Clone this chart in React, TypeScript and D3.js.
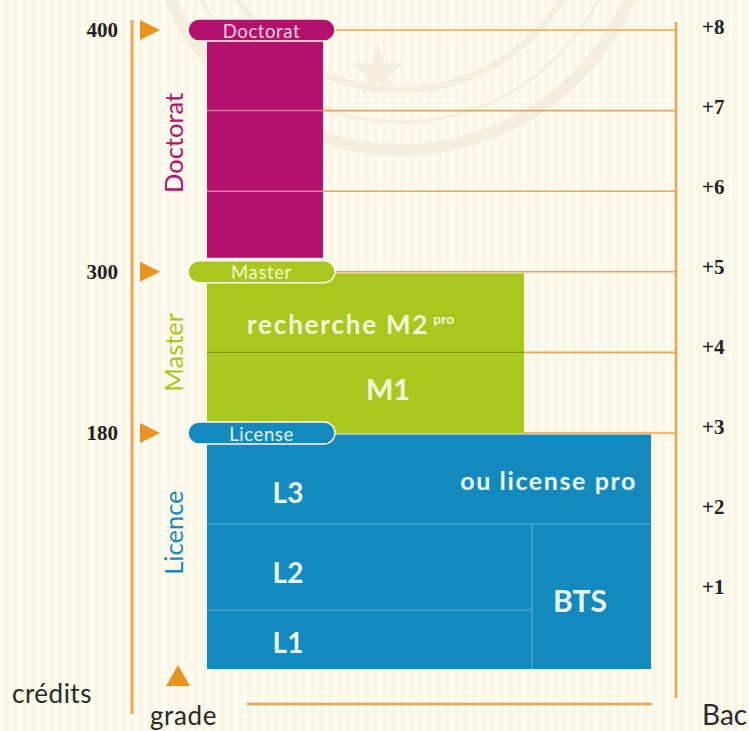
import React, { useEffect, useRef } from 'react';
import * as d3 from 'd3';

// années après le bac
const years = [1, 2, 3, 4, 5, 6, 7, 8];
const yearLabels = ['+1', '+2', '+3', '+4', '+5', '+6', '+7', '+8'];

// crédits ECTS et grades
const credits = [180, 300, 400];
const creditYears = [3, 5, 8];
const gradePills = ['License', 'Master', 'Doctorat'];

// cycles
const cycleNames = ['Licence', 'Master', 'Doctorat'];
const cycleStart = [0, 3, 5];
const cycleEnd = [3, 5, 8];
const cycleColors = ['#1389bd', '#a9c71f', '#b2126b'];
const pillText = ['#e6f6ff', '#f4f8cf', '#f7cde2'];

// cellules (années de formation)
const cellLabels = ['L1', 'L2', 'L3', 'BTS', 'M1', 'recherche M2'];
const cellFrom = [0, 1, 2, 0, 3, 4];
const cellTo = [1, 2, 3, 2, 4, 5];

const App: React.FC = () => {
  const svgRef = useRef<SVGSVGElement>(null);
  const width = 749;
  const height = 731;

  useEffect(() => {
    if (!svgRef.current) return;
    const svg = d3.select(svgRef.current);
    svg.selectAll('*').remove();

    const sans = 'Lato, "Open Sans", sans-serif';
    const serif = '"Liberation Serif", "DejaVu Serif", serif';
    const orange = '#eba552';

    const leftAxisX = 132;
    const rightAxisX = 676;
    const blockLeft = 207;
    const cycleRight = [651, 524, 323];
    const btsLeft = 532;
    const pillX0 = 188, pillX1 = 335, pillH = 22;

    // échelle des années (blocs)
    const y = d3.scaleLinear()
      .domain([0, 1, 2, 3, 8])
      .range([669, 610, 524, 433, 30]);
    // échelle des étiquettes de droite
    const yLab = d3.scaleLinear().domain([1, 8]).range([587, 27]);

    // fond rayé
    const defs = svg.append('defs');
    const pat = defs.append('pattern')
      .attr('id', 'stripes').attr('width', 9).attr('height', 10)
      .attr('patternUnits', 'userSpaceOnUse');
    pat.append('rect').attr('width', 9).attr('height', 10).attr('fill', '#fcf6e6');
    pat.append('rect').attr('width', 4).attr('height', 10).attr('fill', '#fefbf1');
    svg.append('rect').attr('width', width).attr('height', height).attr('fill', 'url(#stripes)');

    // filigrane (sceau), très pâle
    const seal = svg.append('g').attr('fill', 'none').attr('stroke', '#f4ecdc').attr('opacity', 0.8);
    seal.append('circle').attr('cx', 400).attr('cy', -100).attr('r', 250).attr('stroke-width', 12);
    seal.append('circle').attr('cx', 400).attr('cy', -100).attr('r', 222).attr('stroke-width', 3);
    seal.append('circle').attr('cx', 400).attr('cy', -100).attr('r', 190).attr('stroke-width', 7);
    seal.append('path')
      .attr('d', d3.symbol(d3.symbolStar, 900)() as string)
      .attr('transform', 'translate(378,72)')
      .attr('fill', '#f4ecdc').attr('stroke', 'none');

    // lignes horizontales orange
    svg.append('g').selectAll('line')
      .data(years.filter(d => d >= 3))
      .join('line')
      .attr('x1', blockLeft).attr('x2', rightAxisX)
      .attr('y1', d => y(d)).attr('y2', d => y(d))
      .attr('stroke', orange).attr('stroke-width', 1.6);

    // ligne du bas
    svg.append('line')
      .attr('x1', 247).attr('x2', 652).attr('y1', 704).attr('y2', 704)
      .attr('stroke', orange).attr('stroke-width', 2.5);

    // axes verticaux
    svg.append('line')
      .attr('x1', leftAxisX).attr('x2', leftAxisX).attr('y1', 20).attr('y2', 714)
      .attr('stroke', orange).attr('stroke-width', 3);
    svg.append('line')
      .attr('x1', rightAxisX).attr('x2', rightAxisX).attr('y1', 22).attr('y2', 698)
      .attr('stroke', orange).attr('stroke-width', 2.5);

    // blocs des cycles
    cycleNames.forEach((name, i) => {
      let top = y(cycleEnd[i]) + 1.5;
      let bottom = y(cycleStart[i]);
      if (name === 'Doctorat') {
        top = y(cycleEnd[i]) + pillH / 2;
        bottom = y(cycleStart[i]) - pillH / 2 - 3;
      }
      svg.append('rect')
        .attr('x', blockLeft).attr('y', top)
        .attr('width', cycleRight[i] - blockLeft).attr('height', bottom - top)
        .attr('fill', cycleColors[i]);
    });

    // séparations internes
    const sep = svg.append('g');
    [6, 7].forEach(d => {
      sep.append('line').attr('x1', blockLeft).attr('x2', cycleRight[2])
        .attr('y1', y(d)).attr('y2', y(d)).attr('stroke', '#e07aac').attr('stroke-width', 1.5);
    });
    sep.append('line').attr('x1', blockLeft).attr('x2', cycleRight[1])
      .attr('y1', y(4)).attr('y2', y(4)).attr('stroke', '#7c9a14').attr('stroke-width', 1.2);
    sep.append('line').attr('x1', blockLeft).attr('x2', cycleRight[0])
      .attr('y1', y(2)).attr('y2', y(2)).attr('stroke', '#4fb1dc').attr('stroke-width', 1.2);
    sep.append('line').attr('x1', blockLeft).attr('x2', btsLeft)
      .attr('y1', y(1)).attr('y2', y(1)).attr('stroke', '#4fb1dc').attr('stroke-width', 1.2);
    sep.append('line').attr('x1', btsLeft).attr('x2', btsLeft)
      .attr('y1', y(2)).attr('y2', y(0)).attr('stroke', '#4fb1dc').attr('stroke-width', 1.2);

    // textes des cellules
    const cellDy: Record<string, number> = { L1: 2.5, L2: 5, L3: 13.5, BTS: 3.5, M1: -4.5, 'recherche M2': 11.5 };
    const cells = svg.append('g')
      .attr('font-family', sans).attr('font-weight', 700);
    cellLabels.forEach((lab, i) => {
      const cy = (y(cellFrom[i]) + y(cellTo[i])) / 2 + cellDy[lab];
      const isMaster = cellFrom[i] >= 3;
      const t = cells.append('text')
        .attr('dominant-baseline', 'central')
        .attr('fill', isMaster ? '#f6f9d8' : '#e8f6fc');
      if (lab.startsWith('L')) {
        t.attr('x', 288).attr('y', cy).attr('text-anchor', 'middle').attr('font-size', 28).text(lab);
      } else if (lab === 'BTS') {
        t.attr('x', btsLeft + 48).attr('y', cy).attr('text-anchor', 'middle').attr('font-size', 30).text(lab);
      } else if (lab === 'M1') {
        t.attr('x', 388).attr('y', cy).attr('text-anchor', 'middle').attr('font-size', 29).text(lab);
      } else {
        t.attr('x', 247).attr('y', cy).attr('text-anchor', 'start')
          .attr('font-size', 26).attr('letter-spacing', 1.8).text(lab);
        t.append('tspan').attr('font-size', 14).attr('letter-spacing', 0)
          .attr('dx', 4).attr('dy', -6).text('pro');
      }
    });
    cells.append('text')
      .attr('x', cycleRight[0] - 14).attr('y', (y(2) + y(3)) / 2 + 1.5)
      .attr('text-anchor', 'end').attr('dominant-baseline', 'central')
      .attr('fill', '#e8f6fc').attr('font-size', 25).attr('letter-spacing', 1.6)
      .text('ou license pro');

    // pastilles des grades, triangles et crédits
    gradePills.forEach((g, i) => {
      const cy = y(creditYears[i]);
      svg.append('rect')
        .attr('x', pillX0).attr('y', cy - pillH / 2)
        .attr('width', pillX1 - pillX0).attr('height', pillH)
        .attr('rx', pillH / 2)
        .attr('fill', cycleColors[i]).attr('stroke', '#fff8ec').attr('stroke-width', 1.5);
      svg.append('text')
        .attr('x', (pillX0 + pillX1) / 2).attr('y', cy + 0.5)
        .attr('text-anchor', 'middle').attr('dominant-baseline', 'central')
        .attr('font-family', sans).attr('font-size', 18.5).attr('letter-spacing', 0.6)
        .attr('fill', pillText[i]).text(g);

      svg.append('path')
        .attr('d', `M140,${cy - 10}L160,${cy}L140,${cy + 10}Z`)
        .attr('fill', '#e8931f');
      svg.append('text')
        .attr('x', 118).attr('y', cy)
        .attr('text-anchor', 'end').attr('dominant-baseline', 'central')
        .attr('font-family', serif).attr('font-weight', 700).attr('font-size', 21)
        .attr('fill', '#222').text(credits[i]);
    });

    // noms des cycles (verticaux)
    const labelAt = [1.9, 4, 6.6];
    cycleNames.forEach((name, i) => {
      svg.append('text')
        .attr('transform', `translate(173,${y(labelAt[i])}) rotate(-90)`)
        .attr('text-anchor', 'middle').attr('dominant-baseline', 'central')
        .attr('font-family', sans).attr('font-size', 25.5)
        .attr('fill', cycleColors[i]).text(name);
    });

    // étiquettes des années
    svg.append('g').selectAll('text')
      .data(years)
      .join('text')
      .attr('x', 702).attr('y', d => yLab(d))
      .attr('dominant-baseline', 'central')
      .attr('font-family', serif).attr('font-weight', 700).attr('font-size', 21)
      .attr('fill', '#222')
      .text((d, i) => yearLabels[i]);

    // triangle vers le haut
    svg.append('path')
      .attr('d', 'M178,665L190,686L166,686Z')
      .attr('fill', '#e8931f');

    // légendes du bas
    const foot = svg.append('g').attr('font-family', sans).attr('fill', '#2a2a2a');
    foot.append('text').attr('x', 12).attr('y', 703).attr('font-size', 26).attr('letter-spacing', 0.5).text('crédits');
    foot.append('text').attr('x', 150).attr('y', 725).attr('font-size', 26).attr('letter-spacing', 0.6).text('grade');
    foot.append('text').attr('x', 702).attr('y', 725).attr('font-size', 28).text('Bac');
  }, []);

  return (
    <svg
      ref={svgRef}
      width={width}
      height={height}
      style={{ position: 'absolute', left: 0, top: 0 }}
    />
  );
};

export default App;
